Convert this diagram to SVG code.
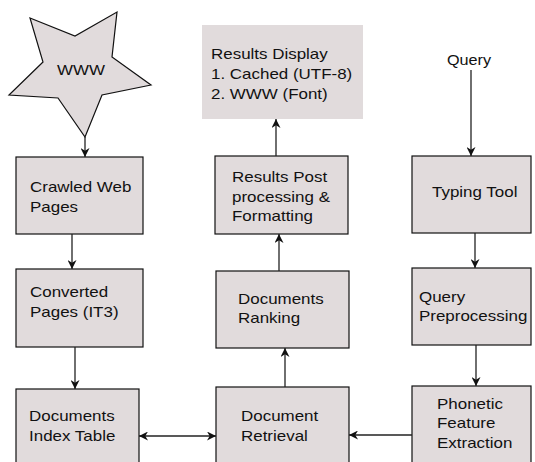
<svg xmlns="http://www.w3.org/2000/svg" width="535" height="462" viewBox="0 0 535 462">
  <defs>
    <marker id="arrow" viewBox="0 0 10 10" refX="10" refY="5" markerWidth="9" markerHeight="9" markerUnits="userSpaceOnUse" orient="auto-start-reverse">
      <path d="M0,0 L10,5 L0,10 L3,5 z" fill="#111"/>
    </marker>
    <style>
      .box { fill: #e1dbdc; stroke: #111; stroke-width: 1.2; }
      .plain { fill: #e1dbdc; stroke: none; }
      .lbl { font-family: "Liberation Sans", Arial, sans-serif; font-size: 15px; fill: #111; }
      .mid { text-anchor: middle; }
      .edge { fill: none; stroke: #222; stroke-width: 1.3; marker-end: url(#arrow); }
    </style>
  </defs>
  <rect width="535" height="462" fill="#ffffff"/>

  <!-- left column -->
  <g id="www">
    <polygon class="box" points="30,18 75,36 117,12 112,57 151,85 102,95 85,137 58,98 9,95 43,62"/>
    <text class="lbl mid" transform="translate(81,75) scale(1.13 1)">WWW</text>
  </g>
  <g id="crawled">
    <rect class="box" x="16" y="157" width="127" height="77"/>
    <text class="lbl" transform="translate(30,192) scale(1.13 1)"><tspan x="0" y="0">Crawled Web</tspan><tspan x="0" y="20">Pages</tspan></text>
  </g>
  <g id="converted">
    <rect class="box" x="16" y="269" width="127" height="78"/>
    <text class="lbl" transform="translate(30,297) scale(1.13 1)"><tspan x="0" y="0">Converted</tspan><tspan x="0" y="20">Pages (IT3)</tspan></text>
  </g>
  <g id="index">
    <rect class="box" x="16" y="389" width="123" height="90"/>
    <text class="lbl" transform="translate(29,421) scale(1.13 1)"><tspan x="0" y="0">Documents</tspan><tspan x="0" y="20">Index Table</tspan></text>
  </g>

  <!-- middle column -->
  <g id="display">
    <rect class="plain" x="202" y="25" width="161" height="94"/>
    <text class="lbl" transform="translate(211,59) scale(1.13 1)"><tspan x="0" y="0">Results Display</tspan><tspan x="0" y="20">1. Cached (UTF-8)</tspan><tspan x="0" y="40">2. WWW (Font)</tspan></text>
  </g>
  <g id="postproc">
    <rect class="box" x="215" y="156" width="133" height="78"/>
    <text class="lbl" transform="translate(232,182) scale(1.13 1)"><tspan x="0" y="0">Results Post</tspan><tspan x="0" y="20">processing &amp;</tspan><tspan x="0" y="39">Formatting</tspan></text>
  </g>
  <g id="ranking">
    <rect class="box" x="216" y="271" width="133" height="77"/>
    <text class="lbl" transform="translate(238,304) scale(1.13 1)"><tspan x="0" y="0">Documents</tspan><tspan x="0" y="19">Ranking</tspan></text>
  </g>
  <g id="retrieval">
    <rect class="box" x="216" y="387" width="133" height="90"/>
    <text class="lbl" transform="translate(241,421) scale(1.13 1)"><tspan x="0" y="0">Document</tspan><tspan x="0" y="20">Retrieval</tspan></text>
  </g>

  <!-- right column -->
  <g id="query">
    <text class="lbl mid" transform="translate(469,65) scale(1.08 1)">Query</text>
  </g>
  <g id="typing">
    <rect class="box" x="412" y="156" width="119" height="77"/>
    <text class="lbl" transform="translate(432,197) scale(1.13 1)">Typing Tool</text>
  </g>
  <g id="preproc">
    <rect class="box" x="412" y="268" width="119" height="77"/>
    <text class="lbl" transform="translate(419,302) scale(1.13 1)"><tspan x="0" y="0">Query</tspan><tspan x="0" y="19">Preprocessing</tspan></text>
  </g>
  <g id="phonetic">
    <rect class="box" x="412" y="386" width="119" height="90"/>
    <text class="lbl" transform="translate(437,409) scale(1.13 1)"><tspan x="0" y="0">Phonetic</tspan><tspan x="0" y="19">Feature</tspan><tspan x="0" y="39">Extraction</tspan></text>
  </g>

  <!-- connectors -->
  <g id="connectors">
    <line class="edge" x1="85" y1="137" x2="85" y2="157"/>
    <line class="edge" x1="72" y1="234" x2="72" y2="269"/>
    <line class="edge" x1="75" y1="347" x2="75" y2="389"/>
    <line class="edge" x1="139" y1="436" x2="216" y2="436" style="marker-start:url(#arrow)"/>
    <line class="edge" x1="412" y1="435" x2="349" y2="435"/>
    <line class="edge" x1="285" y1="387" x2="285" y2="348"/>
    <line class="edge" x1="279" y1="271" x2="279" y2="234"/>
    <line class="edge" x1="276" y1="156" x2="276" y2="119"/>
    <line class="edge" x1="471" y1="70" x2="471" y2="156"/>
    <line class="edge" x1="475" y1="233" x2="475" y2="268"/>
    <line class="edge" x1="476" y1="345" x2="476" y2="386"/>
  </g>
</svg>
